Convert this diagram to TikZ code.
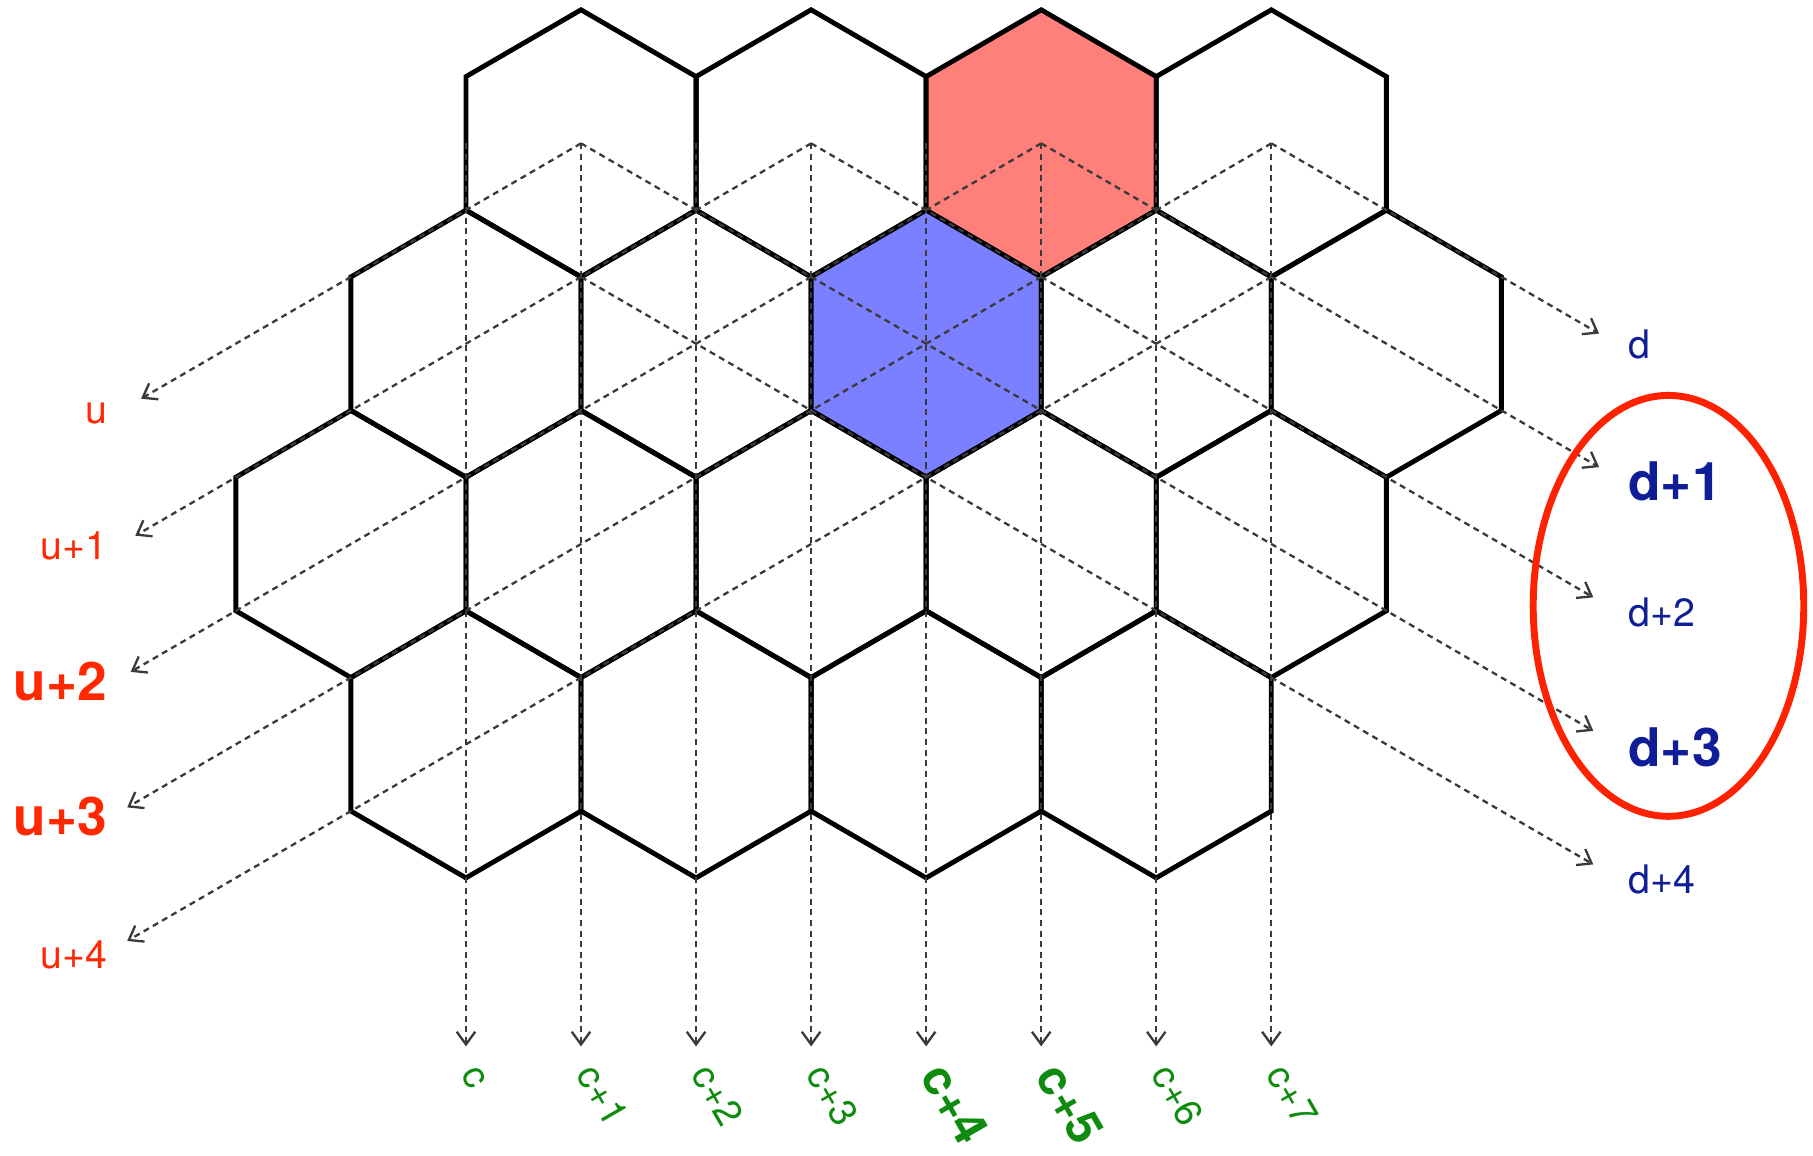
\documentclass[tikz,border=0pt]{standalone}
\usepackage{fontspec}
\setmainfont{TeX Gyre Heros}
\usetikzlibrary{arrows.meta}
\definecolor{hexred}{RGB}{255,127,122}
\definecolor{hexblue}{RGB}{122,128,255}
\definecolor{labred}{RGB}{255,40,0}
\definecolor{labblue}{RGB}{15,30,150}
\definecolor{labgreen}{RGB}{15,140,15}
\definecolor{guidegrey}{RGB}{58,58,58}
\definecolor{ringred}{RGB}{255,34,0}
\newcommand\hexhw{99.5}
\newcommand\hexsd{115.5}
\newcommand\hexcell[3]{%
  \draw[hexedge,#3] (#1,#2-\hexsd) -- (#1+\hexhw,#2-0.5*\hexsd) -- (#1+\hexhw,#2+0.5*\hexsd)
    -- (#1,#2+\hexsd) -- (#1-\hexhw,#2+0.5*\hexsd) -- (#1-\hexhw,#2-0.5*\hexsd) -- cycle;}
\begin{document}
\begin{tikzpicture}[x=0.5pt,y=-0.5pt,
  hexedge/.style={draw=black,line width=2.1pt,line join=miter},
  guide/.style={draw=guidegrey,line width=1pt,dash pattern=on 2.6pt off 2pt,
     -{Straight Barb[length=5.5pt,width=8pt,line width=1pt]}},
  smallfont/.style={font=\fontsize{17}{20}\selectfont},
  boldfont/.style={font=\fontsize{23}{27}\selectfont\bfseries},
  ulab/.style={text=labred,inner sep=0pt,anchor=base east},
  dlab/.style={text=labblue,inner sep=0pt,anchor=base west},
  clab/.style={text=labgreen,inner sep=0pt,anchor=base west,rotate=-60},
  csmall/.style={font=\fontsize{16.5}{19}\selectfont},
  cbold/.style={font=\fontsize{21}{25}\selectfont\bfseries},
  ring/.style={draw=ringred,line width=3pt}]
\useasboundingbox (0,0) rectangle (1568,999);

% hexagons, row 1
\hexcell{502.5}{124}{}
\hexcell{701.5}{124}{}
\hexcell{900.5}{124}{fill=hexred}
\hexcell{1099.5}{124}{}
% row 2
\hexcell{403}{297.25}{}
\hexcell{602}{297.25}{}
\hexcell{801}{297.25}{fill=hexblue}
\hexcell{1000}{297.25}{}
\hexcell{1199}{297.25}{}
% row 3
\hexcell{303.5}{470.5}{}
\hexcell{502.5}{470.5}{}
\hexcell{701.5}{470.5}{}
\hexcell{900.5}{470.5}{}
\hexcell{1099.5}{470.5}{}
% row 4
\hexcell{403}{643.75}{}
\hexcell{602}{643.75}{}
\hexcell{801}{643.75}{}
\hexcell{1000}{643.75}{}

% vertical guides
\foreach \x [count=\i from 0] in {403,502.5,602,701.5,801,900.5,1000,1099.5}{
  \coordinate (cs\i) at (\x,124);
  \coordinate (ce\i) at (\x,905);
  \draw[guide] (cs\i) -- (ce\i);
}
% u guides (down-left)
\coordinate (us0) at (502.5,124);  \coordinate (ue0) at (122,344.8);
\coordinate (us1) at (701.5,124);  \coordinate (ue1) at (117,463.3);
\coordinate (us2) at (900.5,124);  \coordinate (ue2) at (113,581.1);
\coordinate (us3) at (1099.5,124); \coordinate (ue3) at (110,698.3);
\coordinate (us4) at (1099.5,239.5); \coordinate (ue4) at (110,813.8);
\foreach \i in {0,...,4}{\draw[guide] (us\i) -- (ue\i);}
% d guides (down-right)
\coordinate (ds0) at (1099.5,124); \coordinate (de0) at (1383,288.5);
\coordinate (ds1) at (900.5,124);  \coordinate (de1) at (1383,404);
\coordinate (ds2) at (701.5,124);  \coordinate (de2) at (1378,516.6);
\coordinate (ds3) at (502.5,124);  \coordinate (de3) at (1378,632.1);
\coordinate (ds4) at (502.5,239.5); \coordinate (de4) at (1378,747.6);
\foreach \i in {0,...,4}{\draw[guide] (ds\i) -- (de\i);}

% u labels
\node[ulab,smallfont] (lu0) at (93,366) {u};
\node[ulab,smallfont] (lu1) at (93,484) {u+1};
\node[ulab,boldfont]  (lu2) at (93,606) {u+2};
\node[ulab,boldfont]  (lu3) at (93,723) {u+3};
\node[ulab,smallfont] (lu4) at (93,838) {u+4};
% d labels
\node[dlab,smallfont] (ld0) at (1408,310) {d};
\node[dlab,boldfont]  (ld1) at (1408,433) {d+1};
\node[dlab,smallfont] (ld2) at (1408,542) {d+2};
\node[dlab,boldfont]  (ld3) at (1408,663) {d+3};
\node[dlab,smallfont] (ld4) at (1408,773) {d+4};
% c labels
\node[clab,csmall] (lc0) at (398,929) {c};
\node[clab,csmall] (lc1) at (497.5,929) {c+1};
\node[clab,csmall] (lc2) at (597,929) {c+2};
\node[clab,csmall] (lc3) at (696.5,929) {c+3};
\node[clab,cbold]  (lc4) at (795,931) {c+4};
\node[clab,cbold]  (lc5) at (894.5,931) {c+5};
\node[clab,csmall] (lc6) at (995,929) {c+6};
\node[clab,csmall] (lc7) at (1094.5,929) {c+7};

% red ring
\draw[ring] (1443,524) ellipse [x radius=58.5pt, y radius=91pt];
\end{tikzpicture}
\end{document}
